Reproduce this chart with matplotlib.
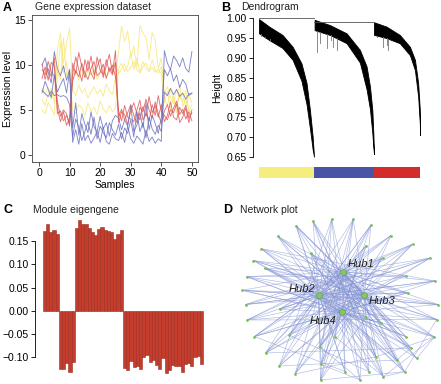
import matplotlib
matplotlib.use('Agg')
import matplotlib.pyplot as plt
from matplotlib.collections import LineCollection
import numpy as np

plt.rcParams['font.family'] = ['Liberation Sans', 'DejaVu Sans']

# ---- A: expression of 9 genes over 50 samples
samples = list(range(1, 51))
yellow_genes = [
    [5.0, 4.6, 5.8, 5.2, 4.4, 11.8, 13.5, 10.2, 12.4, 14.1, 7.2, 6.6, 7.8, 6.9, 7.4, 6.3, 7.0, 7.6, 6.8, 7.3,
     6.5, 7.9, 7.1, 6.7, 8.6, 11.5, 14.3, 12.6, 13.8, 10.9, 12.1, 9.8, 14.4, 13.5, 13.1, 10.6, 13.6, 12.8, 9.6, 10.8,
     6.2, 5.5, 7.4, 6.1, 5.3, 6.8, 5.9, 7.2, 4.8, 5.6],
    [7.4, 6.8, 7.5, 6.2, 7.1, 9.3, 8.4, 13.0, 8.8, 9.6, 5.0, 4.6, 5.6, 5.2, 4.4, 5.8, 4.9, 5.3, 4.5, 6.0,
     5.1, 4.7, 5.5, 4.8, 5.2, 9.6, 10.2, 9.3, 9.9, 11.4, 9.5, 10.8, 9.2, 10.4, 9.6, 9.2, 10.6, 9.4, 9.1, 9.8,
     6.9, 7.6, 6.4, 5.7, 7.3, 6.2, 6.8, 5.4, 6.6, 5.8],
    [6.2, 5.5, 6.9, 7.4, 5.8, 8.4, 12.6, 9.1, 10.3, 8.1, 8.8, 9.4, 8.3, 9.7, 8.6, 9.2, 8.9, 9.6, 8.4, 9.1,
     9.5, 8.7, 9.2, 9.8, 10.3, 9.0, 9.6, 10.1, 9.3, 9.7, 10.4, 9.5, 9.1, 9.8, 10.2, 9.4, 9.7, 9.2, 9.5, 9.0,
     5.8, 7.1, 5.0, 6.6, 4.6, 7.8, 5.4, 6.2, 5.1, 4.5],
]
red_genes = [
    [10.1, 8.4, 9.6, 8.7, 10.8, 4.6, 4.9, 3.8, 4.4, 3.5, 9.0, 10.9, 9.5, 8.2, 10.6, 9.3, 11.0, 8.9, 9.8, 10.7,
     8.6, 9.9, 11.2, 9.1, 11.6, 4.2, 5.1, 3.9, 4.7, 5.6, 4.4, 3.6, 5.3, 4.8, 6.2, 5.0, 4.1, 5.9, 4.6, 3.5,
     4.9, 5.6, 4.3, 5.2, 6.0, 4.5, 5.1, 4.0, 4.8, 3.8],
    [8.5, 9.8, 8.3, 10.3, 9.9, 5.2, 3.7, 4.8, 3.3, 4.1, 8.2, 9.4, 8.7, 10.2, 9.1, 8.4, 9.6, 10.4, 8.8, 9.2,
     10.1, 8.5, 9.7, 8.9, 10.3, 3.6, 4.8, 4.5, 3.4, 4.9, 5.8, 4.6, 3.9, 5.4, 4.3, 6.5, 4.7, 5.5, 4.2, 5.6,
     3.7, 4.4, 5.9, 4.2, 3.9, 5.3, 4.6, 5.5, 4.1, 4.7],
    [9.5, 8.9, 10.4, 9.2, 8.8, 6.0, 4.3, 5.0, 4.6, 3.2, 10.2, 9.0, 11.4, 9.8, 8.6, 10.5, 9.1, 8.4, 10.9, 9.4,
     8.9, 10.6, 9.3, 10.0, 8.7, 4.9, 3.8, 5.5, 4.2, 4.0, 3.7, 5.0, 6.1, 3.9, 4.6, 3.8, 5.6, 4.4, 6.6, 4.8,
     4.4, 3.9, 5.0, 4.7, 5.7, 3.6, 4.2, 5.2, 3.6, 5.0],
]
blue_genes = [
    [10.0, 10.8, 9.2, 8.0, 11.5, 9.6, 8.8, 9.9, 8.3, 9.5, 1.4, 2.8, 1.2, 3.5, 1.6, 2.2, 1.3, 1.9, 2.6, 1.4,
     3.1, 1.5, 1.2, 2.4, 1.8, 1.6, 2.5, 1.4, 3.2, 1.8, 1.3, 2.1, 1.7, 1.2, 2.8, 1.5, 2.0, 1.3, 1.8, 1.5,
     11.6, 10.2, 9.5, 11.0, 10.5, 9.8, 10.8, 9.6, 9.2, 11.5],
    [6.9, 8.2, 7.3, 6.4, 8.9, 7.0, 7.8, 8.5, 6.9, 9.4, 3.0, 5.8, 2.2, 4.6, 3.4, 2.5, 4.8, 3.1, 2.6, 4.3,
     2.9, 3.6, 2.1, 3.8, 4.4, 4.1, 2.8, 3.9, 3.2, 5.5, 2.6, 3.3, 4.7, 3.0, 5.8, 2.8, 4.4, 3.5, 2.4, 4.2,
     9.5, 8.8, 9.6, 8.2, 8.9, 7.5, 8.4, 7.9, 6.6, 6.9],
    [7.2, 6.8, 6.5, 7.1, 6.6, 6.7, 6.5, 6.6, 6.4, 5.6, 2.0, 4.0, 3.1, 1.6, 2.6, 3.7, 2.3, 4.2, 1.8, 3.2,
     2.5, 1.9, 3.6, 2.8, 2.2, 3.4, 1.8, 3.0, 2.4, 3.9, 2.0, 4.8, 2.6, 3.6, 1.9, 4.2, 2.9, 2.3, 3.3, 2.6,
     7.0, 6.6, 7.4, 6.7, 7.3, 6.5, 6.9, 6.2, 6.8, 6.8],
]

# ---- B: dendrogram (three modules)
module_names = ['yellow', 'blue', 'red']
module_colors = ['#F5EE7E', '#4A54A6', '#D42B2B']
module_sizes = [55, 60, 46]
merge_heights = [1.000, 0.990]
band_frac = [
    [0, 0.185, 0.426, 0.611, 0.772, 0.865, 0.926, 0.976, 1.0],
    [0.01, 0.263, 0.543, 0.765, 0.877, 0.933, 0.972, 0.989, 1.0],
    [0, 0.27, 0.56, 0.78, 0.89, 0.96, 0.996, 1.0],
]
band_top = [
    [0.998, 0.979, 0.958, 0.928, 0.886, 0.836, 0.768, 0.700, 0.650],
    [0.996, 0.983, 0.962, 0.920, 0.878, 0.827, 0.768, 0.709, 0.657],
    [0.990, 0.979, 0.958, 0.928, 0.895, 0.836, 0.768, 0.705],
]
band_bottom = [
    [0.962, 0.945, 0.925, 0.895, 0.842, 0.782, 0.722, 0.668, 0.650],
    [0.970, 0.958, 0.937, 0.888, 0.820, 0.770, 0.710, 0.675, 0.657],
    [0.958, 0.950, 0.937, 0.907, 0.869, 0.802, 0.735, 0.705],
]
spike_frac = [[0.03, 0.1, 0.2], [0.055, 0.1, 0.21, 0.28, 0.32, 0.38], [0.06, 0.2, 0.28, 0.31]]
spike_low = [[0.955, 0.950, 0.948], [0.916, 0.937, 0.924, 0.945, 0.928, 0.920], [0.953, 0.928, 0.932, 0.920]]

# ---- C: module eigengene
eigengene = [0.171, 0.186, 0.169, 0.174, 0.165,
             -0.124, -0.124, -0.112, -0.131, -0.109,
             0.178, 0.194, 0.187, 0.186, 0.178, 0.169, 0.162, 0.176, 0.181, 0.174, 0.171, 0.169, 0.154, 0.164, 0.174,
             -0.122, -0.127, -0.107, -0.120, -0.119, -0.125, -0.099, -0.094, -0.109, -0.106, -0.116, -0.124, -0.102,
             -0.134, -0.127, -0.116, -0.118, -0.118, -0.131, -0.115, -0.113, -0.119, -0.099, -0.097, -0.115]

# ---- D: network layout
node_x = [-4.4, -2.7, -0.83, 1.33, 3.1, -6.23, 5.1, 7.25, -7.87, 2.63, -2.92, 9.03, -8.67, 4.25, -7.53, -9.33,
          -9.77, -9.45, -9.3, -8.55, -7.45, -6.08, -4.5, -1.95, 2.0, 4.33, 2.9, 0.5, -1.9, 6.45, 5.67, 7.67,
          3.6, 7.1, -2.0, 9.43, 6.6, -0.5, -5.07, 9.67, 4.1, 2.63, 9.83, -6.03, 6.75, 6.55, 9.5]
node_y = [7.43, 7.87, 8.07, 8.07, 7.5, 6.37, 6.45, 5.57, 5.13, 5.45, 4.67, 4.2, 3.95, 4.2, 3.17, 2.33,
          0.97, -0.45, -2.0, -3.65, -5.3, -6.6, -7.4, -8.0, -8.0, -7.67, -7.17, -7.15, -6.43, -7.17, -6.0, -5.83,
          -5.67, -4.8, -4.67, -3.7, -3.67, -3.65, -3.5, -1.95, -2.28, -1.73, -0.46, -0.92, 0.73, 2.4, 1.9]
hub_names = ['Hub1', 'Hub2', 'Hub3', 'Hub4']
hub_x = [0.33, -2.13, 2.43, 0.17]
hub_y = [2.8, 0.47, 0.53, -1.23]
hub_links = ['1234', '1234', '124', '1234', '1234', '1234', '234', '1234', '1234', '124', '1234', '1234',
             '1234', '124', '1234', '1234', '1234', '123', '1234', '1234', '1234', '234', '1234', '1234',
             '134', '1234', '1234', '124', '1234', '1234', '1234', '123', '1234', '1234', '1234', '1234',
             '124', '1234', '1234', '1234', '134', '1234', '1234', '1234', '1234', '123', '1234']
cross_src = [1, 1, 1, 2, 2, 3, 3, 4, 4, 5, 5, 6, 6, 7, 7, 8, 8, 9, 9, 10, 10, 11, 11, 12, 12, 13, 13,
             14, 14, 15, 15, 16, 16, 17, 17, 18, 19, 20, 21, 22, 23, 24, 25, 26, 27, 28, 32, 30, 31, 38,
             35, 42, 33, 40]
cross_dst = [28, 31, 37, 33, 26, 22, 24, 21, 35, 23, 39, 41, 34, 20, 44, 19, 39, 42, 47, 29, 22, 30, 32,
             18, 44, 45, 40, 21, 35, 43, 36, 46, 37, 43, 41, 47, 40, 45, 34, 31, 33, 30, 29, 36, 39, 20,
             36, 26, 34, 26, 25, 24, 36, 30]

W, H = 441, 384
fig = plt.figure(figsize=(W / 100, H / 100), dpi=100)


def box(l, t, r, b):
    return [l / W, 1 - b / H, (r - l) / W, (b - t) / H]


def label(x, y, s, **kw):
    fig.text(x / W, 1 - y / H, s, va='center', **kw)


fs = 7.5

# A
ax = fig.add_axes(box(32, 15, 198, 162))
for genes, c in [(yellow_genes, '#F8E66E'), (red_genes, '#DC5050'), (blue_genes, '#6569BC')]:
    for g in genes:
        ax.plot(samples, g, color=c, lw=0.65, alpha=0.8)
ax.set_xlim(-2.3, 52)
ax.set_ylim(-0.78, 15.56)
ax.set_xticks([0, 10, 20, 30, 40, 50])
ax.set_yticks([0, 5, 10, 15])
ax.tick_params(labelsize=fs, length=3, width=0.6, pad=1.5, color='#333333')
for s in ax.spines.values():
    s.set_linewidth(0.6)
    s.set_color('#444444')
ax.set_xlabel('Samples', fontsize=fs, labelpad=1)
ax.set_ylabel('Expression level', fontsize=fs, labelpad=1)
label(3, 8, 'A', fontsize=9, fontweight='bold')
label(35, 7, 'Gene expression dataset', fontsize=fs, color='#222222')

# B
axb = fig.add_axes(box(253, 15, 430, 160))
start = 0
starts = []
for i in range(3):
    starts.append(start)
    xs = start + np.array(band_frac[i]) * module_sizes[i]
    axb.fill_between(xs, band_bottom[i], band_top[i], color='black', lw=0.6, edgecolor='black')
    for f, lo in zip(spike_frac[i], spike_low[i]):
        xv = start + f * module_sizes[i]
        hi = np.interp(f, band_frac[i], band_bottom[i])
        axb.plot([xv, xv], [lo, hi], color='#777777', lw=0.6)
    start += module_sizes[i]
for i, h in enumerate(merge_heights):
    axb.plot([starts[i], starts[i + 1]], [h, h], color='#555555', lw=0.6)
axb.set_xlim(-6, 171)
axb.set_ylim(0.6417, 1.0083)
axb.set_yticks([0.65, 0.70, 0.75, 0.80, 0.85, 0.90, 0.95, 1.00])
axb.set_yticklabels(['%.2f' % v for v in axb.get_yticks()])
axb.set_xticks([])
for k in ['top', 'right', 'bottom']:
    axb.spines[k].set_visible(False)
axb.spines['left'].set_bounds(0.65, 1.00)
axb.spines['left'].set_linewidth(0.6)
axb.tick_params(labelsize=fs, length=3, width=0.6, pad=1.5)
axb.set_ylabel('Height', fontsize=fs, labelpad=3)
label(221, 8, 'B', fontsize=9, fontweight='bold')
label(241, 7, 'Dendrogram', fontsize=fs, color='#222222')

axc_bar = fig.add_axes(box(259, 167, 420, 178))
axc_bar.barh(0, module_sizes, left=starts, color=module_colors, height=1)
axc_bar.set_xlim(0, sum(module_sizes))
axc_bar.set_ylim(-0.5, 0.5)
axc_bar.axis('off')

# C
axc = fig.add_axes(box(35, 215, 205, 380))
axc.bar(samples, eigengene, width=1.0, color='#C43C2C', edgecolor='#9C2C20', lw=0.4)
axc.set_xlim(-1.9, 51.1)
axc.set_ylim(-0.1485, 0.2057)
axc.set_yticks([-0.10, -0.05, 0.00, 0.05, 0.10, 0.15])
axc.set_yticklabels(['%.2f' % v if v >= 0 else '\u2212%.2f' % -v for v in axc.get_yticks()])
axc.set_xticks([])
for k in ['top', 'right', 'bottom']:
    axc.spines[k].set_visible(False)
axc.spines['left'].set_bounds(-0.10, 0.15)
axc.spines['left'].set_linewidth(0.6)
axc.tick_params(labelsize=fs, length=3, width=0.6, pad=1.5)
label(3, 210, 'C', fontsize=9, fontweight='bold')
label(33, 210, 'Module eigengene', fontsize=fs, color='#222222')

# D
axd = fig.add_axes(box(235, 210, 441, 384))
segs = []
for i, links in enumerate(hub_links):
    for h in links:
        j = int(h) - 1
        segs.append([(node_x[i], node_y[i]), (hub_x[j], hub_y[j])])
for a, b in zip(cross_src, cross_dst):
    segs.append([(node_x[a - 1], node_y[a - 1]), (node_x[b - 1], node_y[b - 1])])
for i in range(4):
    for j in range(i + 1, 4):
        segs.append([(hub_x[i], hub_y[i]), (hub_x[j], hub_y[j])])
axd.add_collection(LineCollection(segs, colors='#8494D4', linewidths=0.45, alpha=0.65))
axd.scatter(node_x, node_y, s=4, color='#7CBF55', zorder=3, lw=0)
axd.scatter(hub_x, hub_y, s=18, color='#86C464', edgecolor='#5E9E45', lw=0.4, zorder=4)
hub_offsets = [(4, 8, 'left'), (-3, 6, 'right'), (4, -6, 'left'), (-5, -9, 'right')]
for name, x, y, (dx, dy, ha) in zip(hub_names, hub_x, hub_y, hub_offsets):
    axd.annotate(name, (x, y), xytext=(dx, dy), textcoords='offset pixels', ha=ha, va='center',
                 fontsize=8, style='italic', color='#222222', zorder=5)
axd.set_xlim(-10.5, 10.1)
axd.set_ylim(-8.4, 9.0)
axd.axis('off')
label(223, 210, 'D', fontsize=9, fontweight='bold')
label(240, 210, 'Network plot', fontsize=fs, color='#222222')

fig.savefig('out.png', dpi=100)
